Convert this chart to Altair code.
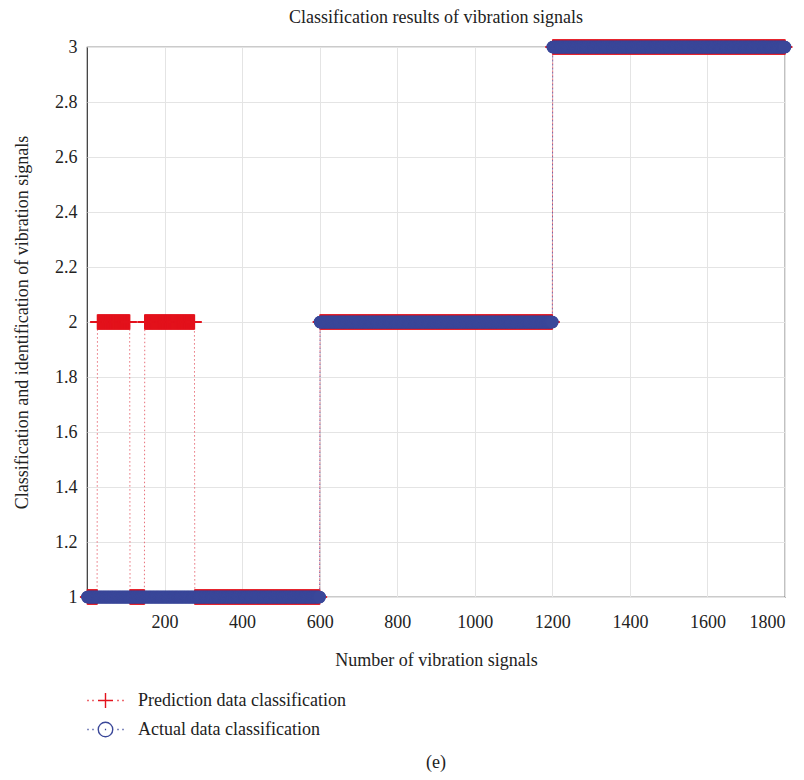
import altair as alt
import pandas as pd
import numpy as np

# ---- data (piecewise-constant class labels per sample) ----
N_SAMPLES = 1800
actual_start = [1, 601, 1201]
actual_end = [600, 1200, 1800]
actual_class = [1, 2, 3]

pred_start = [1, 27, 111, 149, 278, 601, 1201]
pred_end = [26, 110, 148, 277, 600, 1200, 1800]
pred_class = [1, 2, 1, 2, 1, 2, 3]

x_ticks = [200, 400, 600, 800, 1000, 1200, 1400, 1600, 1800]
y_ticks = [1, 1.2, 1.4, 1.6, 1.8, 2, 2.2, 2.4, 2.6, 2.8, 3]

PRED = "Prediction data classification"
ACT = "Actual data classification"


def expand(starts, ends, classes, name):
    rows = []
    for s, e, c in zip(starts, ends, classes):
        for n in range(s, e + 1):
            rows.append({"n": n, "cls": c, "series": name})
    return pd.DataFrame(rows)


df_pred = expand(pred_start, pred_end, pred_class, PRED)
df_act = expand(actual_start, actual_end, actual_class, ACT)

RED = "#e3121c"
BLUE = "#3a4799"
FONT = "Liberation Serif"

xs = alt.Scale(domain=[0, 1800], nice=False, zero=False)
ys = alt.Scale(domain=[1, 3], nice=False, zero=False)

X = alt.X("n:Q", scale=xs,
          axis=alt.Axis(values=x_ticks, labelExpr="datum.value + ''",
                        title="Number of vibration signals"))
Y = alt.Y("cls:Q", scale=ys,
          axis=alt.Axis(values=y_ticks, labelExpr="datum.value + ''",
                        title="Classification and identification of vibration signals"))

plus_path = "M-1,0L1,0M0,-1L0,1"

pred_line = alt.Chart(df_pred).mark_line(
    color="#e8707a", strokeWidth=1, strokeDash=[1.5, 2.5], interpolate="linear"
).encode(x=X, y=Y)
pred_pts = alt.Chart(df_pred).mark_point(
    shape=plus_path, size=225, color=RED, strokeWidth=1.5, filled=False, opacity=1
).encode(x=X, y=Y)

act_line = alt.Chart(df_act).mark_line(
    color="#7a5a9a", strokeWidth=1, strokeDash=[1.5, 2.5]
).encode(x=X, y=Y)
act_pts = alt.Chart(df_act).mark_point(
    shape="circle", size=160, color=BLUE, filled=True, opacity=1, strokeWidth=0
).encode(x=X, y=Y)

# legend symbols: dotted line with marker
dots_outer = "M-1.45,0L-1.35,0M-1.05,0L-0.95,0M0.95,0L1.05,0M1.35,0L1.45,0"
leg_cross = dots_outer + "M-0.6,0L0.6,0M0,-0.6L0,0.6"
leg_circle = (dots_outer + "M-0.05,0L0.05,0"
              + "M0.58,0A0.58,0.58 0 1,1 -0.58,0A0.58,0.58 0 1,1 0.58,0Z")

legend_df = pd.DataFrame({"series": [PRED, ACT], "n": [-5000, -5000], "cls": [-5, -5]})
legend_layer = alt.Chart(legend_df).mark_point(
    clip=True, filled=False, opacity=1, strokeWidth=1.4
).encode(
    x=alt.X("n:Q", scale=xs),
    y=alt.Y("cls:Q", scale=ys),
    color=alt.Color("series:N", sort=[PRED, ACT],
                    scale=alt.Scale(domain=[PRED, ACT], range=[RED, BLUE]),
                    legend=alt.Legend(
                        title=None, orient="none", legendX=5, legendY=640,
                        labelFont=FONT, labelFontSize=18, labelColor="#222",
                        labelLimit=0, labelOffset=19, rowPadding=5, padding=0,
                        symbolStrokeWidth=1.4, symbolSize=625,
                    )),
    shape=alt.Shape("series:N", sort=[PRED, ACT],
                    scale=alt.Scale(domain=[PRED, ACT], range=[leg_cross, leg_circle]),
                    legend=None),
)

caption = alt.Chart(pd.DataFrame({"t": ["(e)"]})).mark_text(
    font=FONT, fontSize=18, color="#222", align="center", baseline="middle"
).encode(text="t:N", x=alt.value(349), y=alt.value(716))

chart = alt.layer(
    pred_line, pred_pts, act_line, act_pts, legend_layer, caption
).properties(
    width=698, height=550,
    title=alt.TitleParams("Classification results of vibration signals",
                          font=FONT, fontSize=18, fontWeight="normal",
                          color="#222", offset=10),
    padding={"left": 5, "top": 0, "right": 0, "bottom": 0},
).configure_view(
    stroke="#333", strokeWidth=1.2
).configure_axis(
    domain=False, ticks=False, grid=True, gridColor="#e4e4e4", gridWidth=1,
    labelFont=FONT, labelFontSize=18, labelColor="#222",
    titleFont=FONT, titleFontSize=18, titleColor="#222", titleFontWeight="normal",
).configure_axisX(
    labelPadding=16, titlePadding=20,
).configure_axisY(
    labelPadding=10, titlePadding=23,
)

chart.save("out.html", embed_options={"renderer": "svg", "actions": False})
